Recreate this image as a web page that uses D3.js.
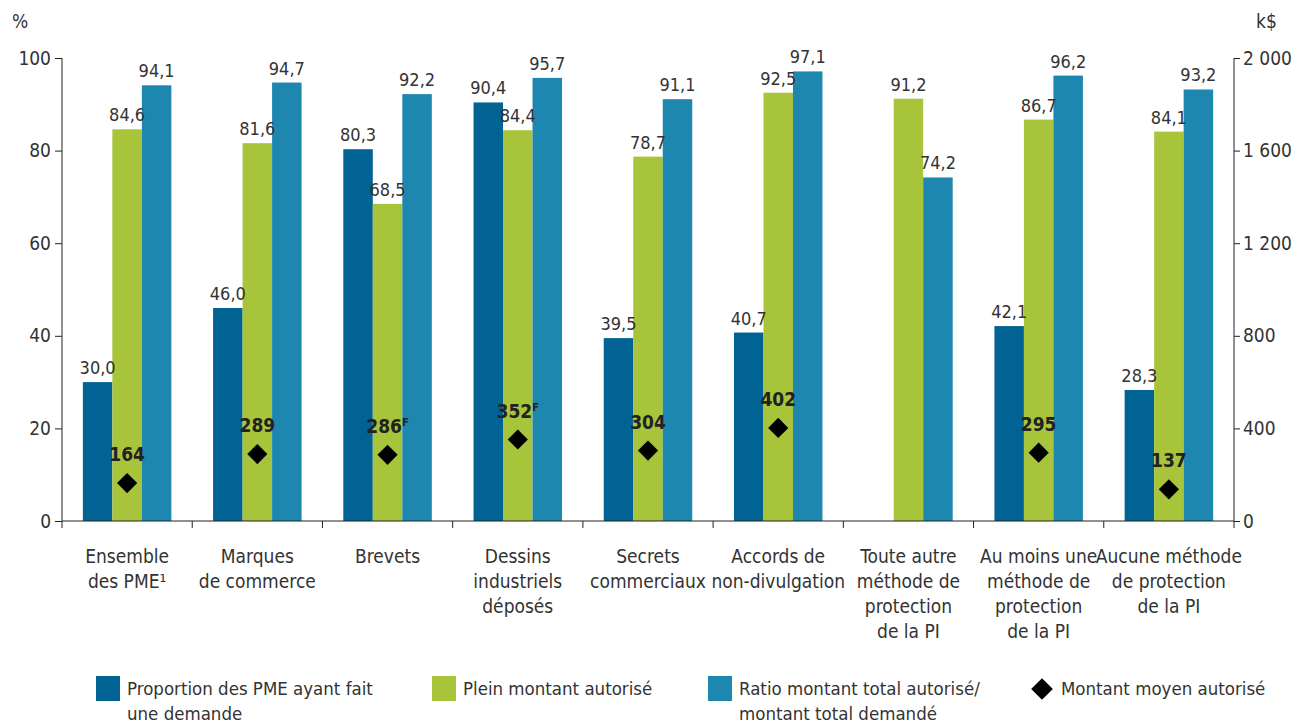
<!DOCTYPE html>
<html><head><meta charset="utf-8">
<script src="https://cdn.jsdelivr.net/npm/d3@7"></script>
<style>
body{margin:0;background:#fff;}
svg text{font-family:"Liberation Sans Narrow","DejaVu Sans Condensed","Roboto",sans-serif;fill:#333;}
</style></head>
<body><svg id="c" width="1307" height="725"></svg>
<script>
const categories = [
  ["Ensemble","des PME\u00B9"],
  ["Marques","de commerce"],
  ["Brevets"],
  ["Dessins","industriels","déposés"],
  ["Secrets","commerciaux"],
  ["Accords de","non-divulgation"],
  ["Toute autre","méthode de","protection","de la PI"],
  ["Au moins une","méthode de","protection","de la PI"],
  ["Aucune méthode","de protection","de la PI"]
];
const proportion = [30.0, 46.0, 80.3, 90.4, 39.5, 40.7, null, 42.1, 28.3];
const pleinMontant = [84.6, 81.6, 68.5, 84.4, 78.7, 92.5, 91.2, 86.7, 84.1];
const ratioMontant = [94.1, 94.7, 92.2, 95.7, 91.1, 97.1, 74.2, 96.2, 93.2];
const montantMoyen = [164, 289, 286, 352, 304, 402, null, 295, 137];
const montantFlag = ["", "", "F", "F", "", "", "", "", ""];
const leftTicks = [0, 20, 40, 60, 80, 100];
const rightTicks = [0, 400, 800, 1200, 1600, 2000];
const seriesNames = ["Proportion des PME ayant fait|une demande", "Plein montant autorisé", "Ratio montant total autorisé/|montant total demandé", "Montant moyen autorisé"];
const colors = ["#006394", "#a8c43a", "#1d87b0"];

const svg = d3.select("#c");
const x0 = 62, x1 = 1234, yTop = 58, yBot = 521;
const x = d3.scaleBand().domain(d3.range(categories.length)).range([x0, x1]).paddingInner(0).paddingOuter(0);
const y = d3.scaleLinear().domain([0, 100]).range([yBot, yTop]);
const yR = d3.scaleLinear().domain([0, 2000]).range([yBot, yTop]);
const bw = 29.5;
const fmt = v => v.toFixed(1).replace(".", ",");
const fmtK = d => d3.format(",")(d).replace(/,/g, " ");

const series = [proportion, pleinMontant, ratioMontant];
series.forEach((arr, si) => {
  const g = svg.append("g");
  arr.forEach((v, i) => {
    if (v == null) return;
    const cx = x(i) + x.bandwidth() / 2 + (si - 1) * bw;
    g.append("rect").attr("x", cx - bw / 2).attr("y", y(v)).attr("width", bw).attr("height", yBot - y(v)).attr("fill", colors[si]);
  });
});
series.forEach((arr, si) => {
  arr.forEach((v, i) => {
    if (v == null) return;
    const cx = x(i) + x.bandwidth() / 2 + (si - 1) * bw;
    svg.append("text").attr("x", cx).attr("y", y(v) - 8).attr("text-anchor", "middle").attr("font-size", 18).text(fmt(v));
  });
});
// diamonds
montantMoyen.forEach((v, i) => {
  if (v == null) return;
  const cx = x(i) + x.bandwidth() / 2, cy = yR(v);
  svg.append("path").attr("d", d3.symbol().type(d3.symbolDiamond2).size(260)()).attr("transform", `translate(${cx},${cy}) rotate(0)`).attr("fill", "#000");
  const t = svg.append("text").attr("x", cx).attr("y", cy - 22).attr("text-anchor", "middle").attr("font-size", 19).attr("font-weight", "bold").style("fill", "#222");
  t.append("tspan").text(v);
  if (montantFlag[i]) t.append("tspan").attr("font-size", 11).attr("dy", -7).text(montantFlag[i]);
});

// axes
const axL = svg.append("g").attr("transform", `translate(${x0},0)`).call(d3.axisLeft(y).tickValues(leftTicks).tickSize(7).tickPadding(4));
const axR = svg.append("g").attr("transform", `translate(${x1},0)`).call(d3.axisRight(yR).tickValues(rightTicks).tickFormat(fmtK).tickSize(6).tickPadding(3));
[axL, axR].forEach(a => {
  a.select(".domain").attr("d", null);
  a.selectAll("line").attr("stroke", "#222");
  a.selectAll("text").attr("font-size", 19).style("fill", "#333").attr("font-family", null);
});
svg.append("line").attr("x1", x0).attr("x2", x0).attr("y1", yTop).attr("y2", yBot + 7).attr("stroke", "#222");
svg.append("line").attr("x1", x1).attr("x2", x1).attr("y1", yTop).attr("y2", yBot + 7).attr("stroke", "#222");
svg.append("line").attr("x1", x0).attr("x2", x1).attr("y1", yBot).attr("y2", yBot).attr("stroke", "#222");
d3.range(1, categories.length).forEach(i => {
  svg.append("line").attr("x1", x(i)).attr("x2", x(i)).attr("y1", yBot).attr("y2", yBot + 7).attr("stroke", "#222");
});
svg.append("text").attr("x", 12).attr("y", 28).attr("font-size", 19).text("%");
svg.append("text").attr("x", 1256).attr("y", 28).attr("font-size", 19).text("k$");

// x labels
categories.forEach((lines, i) => {
  const t = svg.append("text").attr("text-anchor", "middle").attr("font-size", 19);
  lines.forEach((l, j) => t.append("tspan").attr("x", x(i) + x.bandwidth() / 2).attr("y", 563 + j * 25).text(l));
});

// legend
const leg = [
  {x: 96, type: "rect", c: colors[0]},
  {x: 432, type: "rect", c: colors[1]},
  {x: 708, type: "rect", c: colors[2]},
  {x: 1030, type: "diamond"}
];
leg.forEach((d, i) => {
  const lines = seriesNames[i].split("|");
  if (d.type === "rect") {
    svg.append("rect").attr("x", d.x).attr("y", 676).attr("width", 24).attr("height", 25).attr("fill", d.c);
  } else {
    svg.append("path").attr("d", d3.symbol().type(d3.symbolDiamond2).size(300)()).attr("transform", `translate(${d.x + 12},689)`).attr("fill", "#000");
  }
  const tx = d.type === "rect" ? d.x + 31 : d.x + 31;
  const t = svg.append("text").attr("font-size", 18.5);
  lines.forEach((l, j) => t.append("tspan").attr("x", tx).attr("y", 695 + j * 25).text(l));
});
</script></body></html>
